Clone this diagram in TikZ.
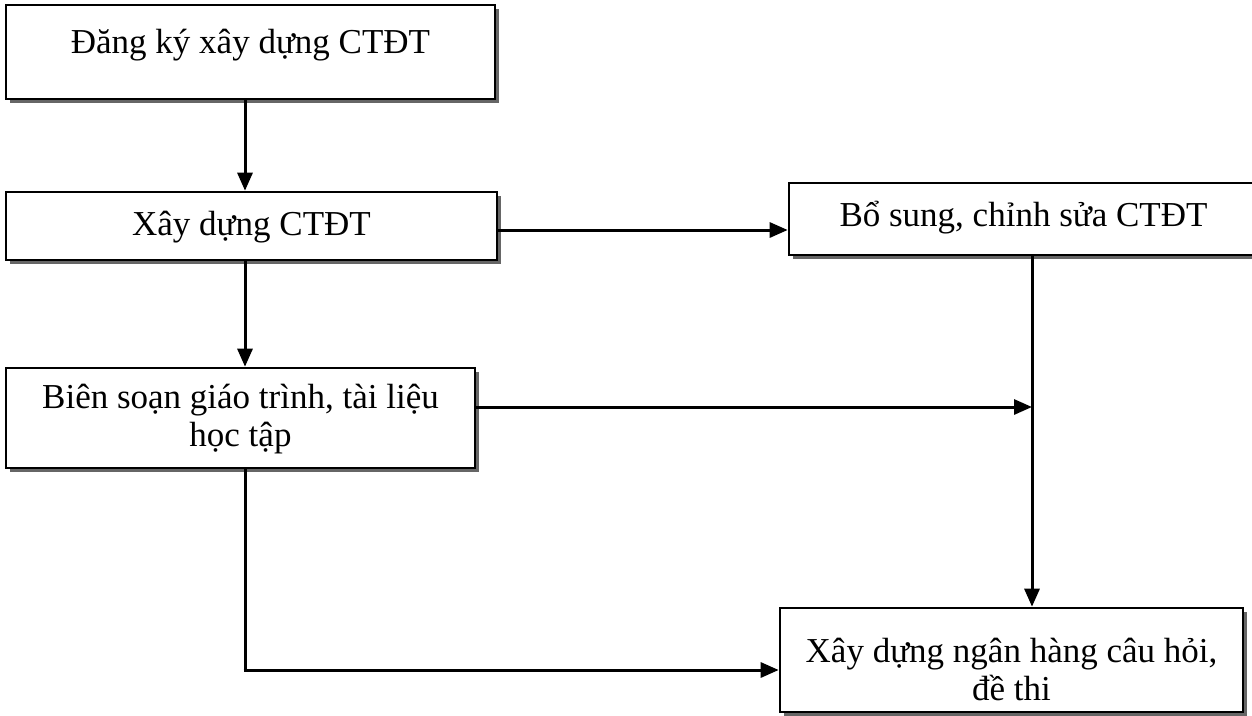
\documentclass[tikz,border=0pt]{standalone}
\usepackage{fontspec}
\setmainfont{Liberation Serif}
\usetikzlibrary{arrows.meta,shadows}
\begin{document}
\begin{tikzpicture}[x=1pt,y=-1pt,
  stepbox/.style={draw=black, line width=2.6pt, fill=white, rectangle,
    inner sep=0pt,
    general shadow={shadow xshift=4pt, shadow yshift=-4pt, fill=black!60}},
  steptext/.style={align=center, inner sep=0pt, font=\fontsize{35}{38}\selectfont},
  flow/.style={line width=3pt, -{Triangle[length=18pt,width=15pt]}},
  plain/.style={line width=3pt}]
  \clip (0,0) rectangle (1252,715);
  \fill[white] (0,0) rectangle (1252,715);

  % process boxes
  \node[stepbox, minimum width=489pt, minimum height=94pt] (reg) at (250.5,52) {};
  \node[stepbox, minimum width=491pt, minimum height=68pt] (build) at (251.5,226) {};
  \node[stepbox, minimum width=469pt, minimum height=72pt] (revise) at (1023.5,219) {};
  \node[stepbox, minimum width=469pt, minimum height=100pt] (write) at (240.5,418) {};
  \node[stepbox, minimum width=463pt, minimum height=104pt] (bank) at (1011.5,660) {};

  % box captions
  \node[steptext] (regT) at ([yshift=7pt]reg.center) {Đăng ký xây dựng CTĐT};
  \node[steptext] (buildT) at ([yshift=-1pt]build.center) {Xây dựng CTĐT};
  \node[steptext] (reviseT) at ([yshift=1pt]revise.center) {Bổ sung, chỉnh sửa CTĐT};
  \node[steptext] (writeT) at ([yshift=-1pt]write.center) {Biên soạn giáo trình, tài liệu\\học tập};
  \node[steptext] (bankT) at ([yshift=-9pt]bank.center) {Xây dựng ngân hàng câu hỏi,\\đề thi};

  % junction points
  \coordinate (j) at (1032,407);
  \coordinate (c) at (245,670);

  % connectors
  \draw[flow] (reg.south -| 245,0) -- (build.north -| 245,0);
  \draw[flow] (build.south -| 245,0) -- (write.north -| 245,0);
  \draw[flow] (build.east |- 0,230) -- (revise.west |- 0,230);
  \draw[flow] (revise.south -| j) -- (bank.north -| j);
  \draw[flow] (write.east |- j) -- (j);
  \draw[plain] (write.south -| c) -- (c);
  \draw[flow] ([xshift=-1.5pt]c) -- (bank.west |- c);
\end{tikzpicture}
\end{document}
